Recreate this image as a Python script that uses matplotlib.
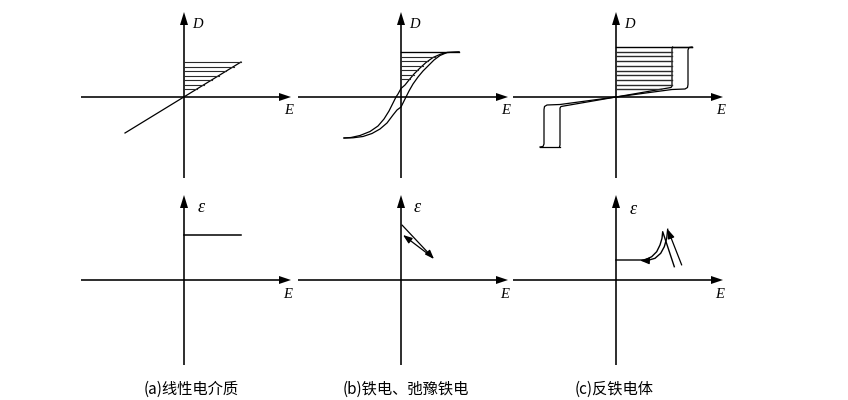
import numpy as np
import matplotlib
matplotlib.use('Agg')
import matplotlib.pyplot as plt

plt.rcParams['font.family'] = ['Noto Sans CJK SC', 'DejaVu Sans']

W, H = 848, 400
# panel origins (pixels from left / from top)
origin_x = [184, 401, 616]
origin_y = [97, 280]

captions = ['(a)线性电介质', '(b)铁电、弛豫铁电', '(c)反铁电体']
caption_x = [191, 406, 614]
caption_y = 389

# ---- (a) linear dielectric, D-E ----
lin_E = [-59, 57]
lin_D = [-36, 35]
lin_hatch = [35, 30.5, 26, 21.5, 17, 12.5, 8]

# ---- (b) ferroelectric loop, D-E ----
fe_up_E = [-57, -50, -41, -31, -23, -17, -12, -8, -5, -3, 0, 4, 8, 13, 19, 25, 32, 40, 46, 58]
fe_up_D = [-41, -40.5, -38.5, -34.5, -29, -22, -14, -6, 0, 3, 8.5, 12, 17, 23, 29, 34.5, 39.5, 43, 44.5, 45]
fe_lo_E = [-57, -48, -38, -29, -21, -14, -8, -4, 0, 3, 5, 8, 12, 17, 22, 27, 33, 39, 46, 58]
fe_lo_D = [-41, -40.8, -39.5, -36.5, -32, -26, -18, -13, -10, -4, 0, 6, 13, 20, 26, 31, 37, 41.5, 44.5, 45]
fe_hatch = [45, 40.5, 36, 31.5, 27, 22.5, 18.5]

# ---- (c) antiferroelectric double loop, D-E (right loop; left loop is mirrored) ----
afe_fwd_E = [0, 56, 69, 71.5, 72, 72, 73, 76]
afe_fwd_D = [0, 7.5, 8, 9.5, 12.5, 47, 49.5, 50]
afe_back_E = [0, 55, 56, 56, 56.5]
afe_back_D = [0, 9.5, 11, 48, 50]
afe_top_E = [0, 76]
afe_top_D = [50, 50]
afe_hatch = [45.3, 40.6, 35.9, 31.2, 26.5, 21.8, 17.1, 12.4, 7.7]

# ---- bottom row: epsilon-E ----
eps_lin_E = [0, 57]
eps_lin_D = [45, 45]
eps_fe_out = [(1, 55), (33, 21)]
eps_fe_back = [(31, 23), (2, 45)]
eps_afe_in_E = [0, 29, 35.7, 40.7, 44, 46, 46.7, 58.3]
eps_afe_in_D = [20, 20, 23.3, 28.3, 35, 41.7, 48.3, 13.3]
eps_afe_out_E = [65.7, 51.7, 50.7, 48.3, 44.7, 39, 30.7, 24]
eps_afe_out_D = [15, 50.7, 41.7, 33.3, 26.7, 21.7, 19.3, 19.6]

fig = plt.figure(figsize=(W / 100, H / 100), dpi=100)
fig.patch.set_facecolor('white')

XMIN, XMAX, YMIN, YMAX = -112, 114, -88, 90
serif = dict(fontfamily='Liberation Serif', style='italic')


def make_axes(ox, oy):
    ax = fig.add_axes([(ox + XMIN) / W, (H - oy + YMIN) / H,
                       (XMAX - XMIN) / W, (YMAX - YMIN) / H])
    ax.set_xlim(XMIN, XMAX)
    ax.set_ylim(YMIN, YMAX)
    ax.axis('off')
    ax.patch.set_alpha(0)
    return ax


def draw_axes(ax, ylo, yhi, ylab, ylab_pos, elab_pos, yfs=10.5):
    ax.arrow(-103, 0, 210, 0, width=1.6, head_width=8, head_length=12,
             length_includes_head=True, fc='k', ec='none', clip_on=False)
    ax.arrow(0, ylo, 0, yhi - ylo, width=1.6, head_width=8, head_length=13,
             length_includes_head=True, fc='k', ec='none', clip_on=False)
    ax.text(ylab_pos[0], ylab_pos[1], ylab, fontsize=yfs, ha='left', va='center', **serif)
    ax.text(elab_pos[0], elab_pos[1], 'E', fontsize=10.5, ha='center', va='center', **serif)


def small_arrow(ax, start, end, ms=9):
    ax.annotate('', xy=end, xytext=start,
                arrowprops=dict(arrowstyle='-|>,head_length=0.6,head_width=0.22',
                                lw=0.9, color='k', shrinkA=0, shrinkB=0,
                                mutation_scale=ms))


lw_c = 0.9
hatch_col = '#2a2a2a'

# ---------- top row ----------
axes_top = [make_axes(ox, origin_y[0]) for ox in origin_x]
for ax in axes_top:
    draw_axes(ax, -81, 85, 'D', (8, 73), (105, -14))

# (a)
ax = axes_top[0]
ax.plot(lin_E, lin_D, color='k', lw=lw_c)
for lv in lin_hatch:
    xe = np.interp(lv, lin_D, lin_E)
    ax.plot([0, xe], [lv, lv], color=hatch_col, lw=0.8)

# (b)
ax = axes_top[1]
ax.plot(fe_up_E, fe_up_D, color='k', lw=lw_c)
ax.plot(fe_lo_E, fe_lo_D, color='k', lw=lw_c)
for lv in fe_hatch:
    xe = np.interp(lv, fe_up_D, fe_up_E)
    ax.plot([0, xe], [lv, lv], color=hatch_col, lw=0.8)
ax.plot([0, fe_up_E[-1]], [fe_up_D[-1], fe_up_D[-1]], color='k', lw=lw_c)

# (c)
ax = axes_top[2]
for s in (1, -1):
    ax.plot(np.multiply(afe_fwd_E, s), np.multiply(afe_fwd_D, s), color='k', lw=lw_c)
    ax.plot(np.multiply(afe_back_E, s), np.multiply(afe_back_D, s), color='k', lw=lw_c)
    ax.plot(np.multiply(afe_top_E[1:] + [afe_back_E[-1]], s),
            np.multiply(afe_top_D, s), color='k', lw=lw_c)
ax.plot(afe_top_E, afe_top_D, color='k', lw=1.0)
for lv in afe_hatch:
    xe = np.interp(lv, afe_back_D, afe_back_E)
    ax.plot([0, xe], [lv, lv], color=hatch_col, lw=1.0)

# ---------- bottom row ----------
axes_bot = [make_axes(ox, origin_y[1]) for ox in origin_x]
eps_lab = [(14, 72.5), (13, 73), (14, 71)]
for ax, lp in zip(axes_bot, eps_lab):
    draw_axes(ax, -85, 85, 'ε', lp, (104, -15), yfs=13)

# (a)
axes_bot[0].plot(eps_lin_E, eps_lin_D, color='k', lw=1.1)

# (b)
ax = axes_bot[1]
small_arrow(ax, eps_fe_out[0], eps_fe_out[1])
small_arrow(ax, eps_fe_back[0], eps_fe_back[1])

# (c)
ax = axes_bot[2]
ax.plot(eps_afe_in_E, eps_afe_in_D, color='k', lw=1.0)
small_arrow(ax, (eps_afe_out_E[0], eps_afe_out_D[0]), (eps_afe_out_E[1], eps_afe_out_D[1]))
ax.plot(eps_afe_out_E[1:-1], eps_afe_out_D[1:-1], color='k', lw=1.0)
small_arrow(ax, (eps_afe_out_E[-2], eps_afe_out_D[-2]), (eps_afe_out_E[-1], eps_afe_out_D[-1]))

# captions
for cx, txt in zip(caption_x, captions):
    fig.text(cx / W, 1 - caption_y / H, txt, ha='center', va='center', fontsize=11)

fig.savefig('out.png', dpi=100, facecolor='white')
